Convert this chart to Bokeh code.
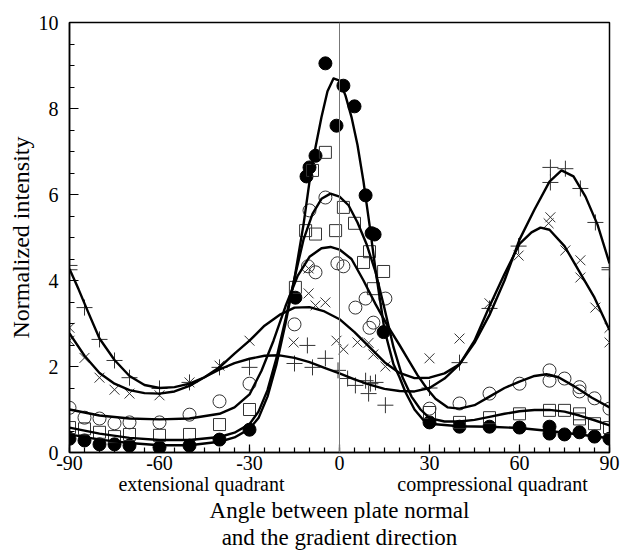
from bokeh.plotting import figure
from bokeh.models import FixedTicker, Span, Range1d, LinearAxis
from bokeh.embed import file_html
from bokeh.resources import INLINE

# ---------------- data ----------------
# filled circles
fc_x = [-90, -85, -80, -75, -70, -60, -50, -40, -30, -14.7, -11, -10, -8, -4.7, -1, 1.3, 5, 8.7, 10.7, 11.7, 14.7,
        30, 40, 50, 60, 70, 70, 75, 80, 85, 90]
fc_y = [0.32, 0.28, 0.19, 0.19, 0.16, 0.12, 0.16, 0.3, 0.53, 3.6, 6.42, 6.63, 6.9, 9.05, 7.6, 8.53, 8.05, 5.98, 5.1, 5.07, 2.8,
        0.7, 0.6, 0.6, 0.58, 0.6, 0.44, 0.42, 0.47, 0.37, 0.32]

# open circles
oc_x = [-90, -85, -80, -75, -70, -60, -50, -40, -30, -15, -10.5, -10, -8, -4.7, -0.7, 1.3, 5.3, 8.7, 10, 11.3, 15.3,
        30, 40, 50, 60, 70, 70, 75, 80, 80, 85, 90]
oc_y = [1.04, 0.81, 0.79, 0.68, 0.7, 0.7, 0.88, 1.19, 1.6, 2.98, 4.33, 5.63, 4.19, 5.93, 4.4, 4.33, 3.37, 3.58, 2.9, 3.02, 3.58,
        1.02, 1.14, 1.37, 1.6, 1.91, 1.67, 1.72, 1.52, 1.42, 1.26, 1.02]

# open squares
sq_x = [-90, -85, -80, -75, -70, -60, -50, -40, -30, -14.7, -11.3, -9, -8, -4.7, -1.3, 1.3, 5, 8, 10, 11.3, 14.7,
        30, 40, 50, 60, 70, 75, 80, 80, 85, 90]
sq_y = [0.58, 0.55, 0.47, 0.37, 0.42, 0.4, 0.42, 0.65, 1.0, 3.84, 5.16, 6.56, 5.08, 6.98, 5.16, 5.7, 5.33, 4.42, 4.67, 3.81, 4.21,
        0.93, 0.7, 0.81, 0.9, 0.98, 0.98, 0.9, 0.78, 0.67, 0.58]

# crosses (x)
xm_x = [-90, -90, -85, -80, -75, -70, -60, -50, -40, -30, -15.3, -10.3, -10.3, -8, -4.7, -1, 1.3, 6, 9.7, 11.3, 15.3,
        30, 40, 50, 59.7, 69.7, 70.3, 75.3, 80.3, 80.3, 85.3, 90, 90]
xm_y = [2.9, 2.6, 2.2, 1.74, 1.46, 1.37, 1.33, 1.63, 2.02, 2.6, 2.56, 4.28, 3.7, 3.42, 3.49, 2.6, 2.4, 2.56, 2.55, 2.28, 2.0,
        2.19, 2.65, 3.47, 4.58, 5.33, 5.47, 4.7, 4.47, 4.07, 3.37, 2.9, 2.56]

# plus signs (+)
pl_x = [-90, -90, -85, -80, -75, -70, -60, -50, -40, -30, -15, -10.7, -9, -4.7, -0.5, 2.7, 5.3, 8.7, 9.7, 10.3, 12, 15.3,
        30, 40, 50, 59.7, 70.3, 70.3, 75.3, 80.3, 85.3, 90, 90]
pl_y = [4.35, 4.25, 3.37, 2.63, 2.14, 1.74, 1.49, 1.63, 1.98, 1.98, 2.07, 2.49, 1.98, 2.19, 1.91, 1.72, 1.56, 1.67, 1.37, 1.6, 1.63, 1.1,
        1.5, 2.09, 3.35, 4.8, 6.63, 6.28, 6.6, 6.14, 5.35, 4.3, 4.25]

# fitted curves
ca_x = [-90, -80, -70, -60, -50, -40, -35, -30, -27, -24, -21, -18, -15, -12, -10, -8, -6, -4, -2, 0, 2, 4, 6, 8, 10, 12,
        15, 18, 20, 22, 25, 28, 30, 40, 50, 60, 70, 80, 90]
ca_y = [0.42, 0.3, 0.22, 0.17, 0.17, 0.25, 0.35, 0.55, 0.8, 1.3, 2.05, 3.0, 4.05, 5.3, 6.3, 7.1, 7.8, 8.4, 8.7, 8.65, 8.3, 7.8, 7.15, 6.3, 5.3, 4.25,
        2.85, 2.05, 1.75, 1.4, 1.0, 0.75, 0.67, 0.61, 0.6, 0.57, 0.5, 0.42, 0.33]

cb_x = [-90, -80, -70, -60, -50, -40, -35, -30, -27, -24, -21, -18, -15, -12, -9, -6, -3, 0, 3, 6, 9, 12, 15, 18, 21, 24, 27,
        30, 35, 40, 45, 50, 55, 60, 65, 70, 75, 80, 85, 90]
cb_y = [0.58, 0.44, 0.34, 0.29, 0.29, 0.36, 0.46, 0.66, 0.95, 1.45, 2.2, 3.1, 4.05, 4.95, 5.55, 5.9, 6.02, 5.95, 5.75, 5.35, 4.85, 4.2, 3.35, 2.45, 1.75, 1.3, 1.0,
        0.8, 0.72, 0.72, 0.76, 0.83, 0.9, 0.96, 0.99, 0.99, 0.95, 0.86, 0.75, 0.63]

cc_x = [-90, -80, -70, -60, -50, -40, -35, -30, -26, -22, -18, -14, -10, -6, -3, 0, 4, 8, 12, 16, 20, 23, 26, 29, 32, 36,
        40, 45, 50, 55, 60, 65, 69, 73, 78, 84, 90]
cc_y = [1.0, 0.86, 0.79, 0.77, 0.79, 0.9, 1.05, 1.35, 1.9, 2.6, 3.4, 4.1, 4.55, 4.75, 4.78, 4.72, 4.5, 4.0, 3.45, 2.95, 2.5, 2.15, 1.8, 1.5, 1.25, 1.05,
        1.02, 1.1, 1.3, 1.5, 1.65, 1.78, 1.82, 1.75, 1.55, 1.28, 1.05]

cd_x = [-90, -85, -80, -75, -70, -65, -60, -55, -50, -45, -40, -35, -30, -25, -20, -15, -10, -5, 0, 5, 10, 15, 20, 25, 30,
        35, 40, 45, 50, 55, 60, 64, 67, 70, 75, 80, 85, 90]
cd_y = [2.77, 2.25, 1.85, 1.6, 1.45, 1.38, 1.37, 1.42, 1.55, 1.75, 1.98, 2.3, 2.6, 2.95, 3.2, 3.37, 3.38, 3.28, 3.1, 2.8, 2.45, 2.1, 1.85, 1.73, 1.74,
        1.84, 2.05, 2.6, 3.4, 4.15, 4.85, 5.12, 5.23, 5.18, 4.8, 4.2, 3.6, 2.85]

ce_x = [-90, -87, -84, -80, -75, -70, -65, -60, -55, -50, -45, -40, -35, -30, -25, -20, -15, -10, -5, 0, 5, 10, 15, 20, 25,
        30, 35, 40, 45, 50, 55, 60, 65, 70, 74, 78, 82, 86, 90]
ce_y = [4.27, 3.8, 3.3, 2.65, 2.15, 1.78, 1.57, 1.5, 1.52, 1.6, 1.75, 1.93, 2.08, 2.18, 2.25, 2.26, 2.2, 2.1, 1.97, 1.84, 1.7, 1.58, 1.48, 1.43, 1.42,
        1.5, 1.72, 2.05, 2.55, 3.2, 4.0, 4.95, 5.65, 6.3, 6.56, 6.42, 5.95, 5.3, 4.4]

x_major = [-90, -60, -30, 0, 30, 60, 90]
x_major_labels = ["-90", "-60", "-30", "0", "30", "60", "90"]
x_minor = list(range(-90, 91, 5))
y_major = [0, 2, 4, 6, 8, 10]
y_minor = [i * 0.5 for i in range(21)]
quad_pos = [-46, 51]
quad_labels = ["extensional quadrant", "compressional quadrant"]
x_title = "Angle between plate normal\nand the gradient direction"

FONT = "Liberation Serif"

p = figure(width=623, height=553, output_backend="svg", toolbar_location=None,
           x_range=Range1d(-90, 90), y_range=Range1d(0, 10),
           min_border_left=69, min_border_right=14, min_border_top=22, min_border_bottom=101)
p.grid.visible = False
p.outline_line_color = "black"
p.outline_line_width = 1.5
p.background_fill_color = "white"
p.border_fill_color = "white"

# axes
xa = p.xaxis[0]
xa.ticker = FixedTicker(ticks=x_major, minor_ticks=x_minor)
xa.major_label_overrides = dict(zip(x_major, x_major_labels))
xa.major_tick_in = 8
xa.major_tick_out = 0
xa.minor_tick_in = 5
xa.minor_tick_out = 0
xa.axis_line_width = 1.5
xa.major_tick_line_width = 1.2
xa.minor_tick_line_width = 1.2
xa.major_label_text_font = FONT
xa.major_label_text_font_size = "20px"
xa.major_label_text_color = "black"
xa.major_label_standoff = 3

ya = p.yaxis[0]
ya.ticker = FixedTicker(ticks=y_major, minor_ticks=y_minor)
ya.major_tick_in = 9
ya.major_tick_out = 0
ya.minor_tick_in = 5
ya.minor_tick_out = 0
ya.axis_line_width = 1.5
ya.major_tick_line_width = 1.2
ya.minor_tick_line_width = 1.2
ya.major_label_text_font = FONT
ya.major_label_text_font_size = "20px"
ya.major_label_text_color = "black"
ya.major_label_standoff = 11
ya.axis_label = "Normalized intensity"
ya.axis_label_text_font = FONT
ya.axis_label_text_font_size = "24px"
ya.axis_label_text_font_style = "normal"
ya.axis_label_text_color = "black"
ya.axis_label_standoff = 2

# second (label-only) axis below: quadrant names and the axis title
qa = LinearAxis(ticker=FixedTicker(ticks=quad_pos, minor_ticks=[]),
                major_label_overrides=dict(zip(quad_pos, quad_labels)),
                axis_line_color=None, major_tick_line_color=None, minor_tick_line_color=None,
                major_tick_in=0, major_tick_out=0, minor_tick_in=0, minor_tick_out=0,
                major_label_standoff=0,
                major_label_text_font=FONT, major_label_text_font_size="20px",
                major_label_text_color="black",
                axis_label=x_title,
                axis_label_text_font=FONT, axis_label_text_font_size="23px",
                axis_label_text_line_height=1.1,
                axis_label_text_font_style="normal", axis_label_text_color="black",
                axis_label_standoff=0)
p.add_layout(qa, "below")

p.add_layout(Span(location=0, dimension="height", line_color="#777777", line_width=1))

# markers
p.scatter(fc_x, fc_y, marker="circle", size=13, fill_color="black", line_color="black")
p.scatter(oc_x, oc_y, marker="circle", size=13, fill_color=None, line_color="#333333", line_width=1)
p.scatter(sq_x, sq_y, marker="square", size=12, fill_color=None, line_color="#333333", line_width=1)
p.scatter(xm_x, xm_y, marker="x", size=14, line_color="#333333", line_width=1)
p.scatter(pl_x, pl_y, marker="cross", size=16, line_color="#333333", line_width=1)

# curves
for cx, cy in [(ca_x, ca_y), (cb_x, cb_y), (cc_x, cc_y), (cd_x, cd_y), (ce_x, ce_y)]:
    p.line(cx, cy, line_color="black", line_width=2.4, line_join="round")

open("out.html", "w").write(file_html(p, INLINE))
